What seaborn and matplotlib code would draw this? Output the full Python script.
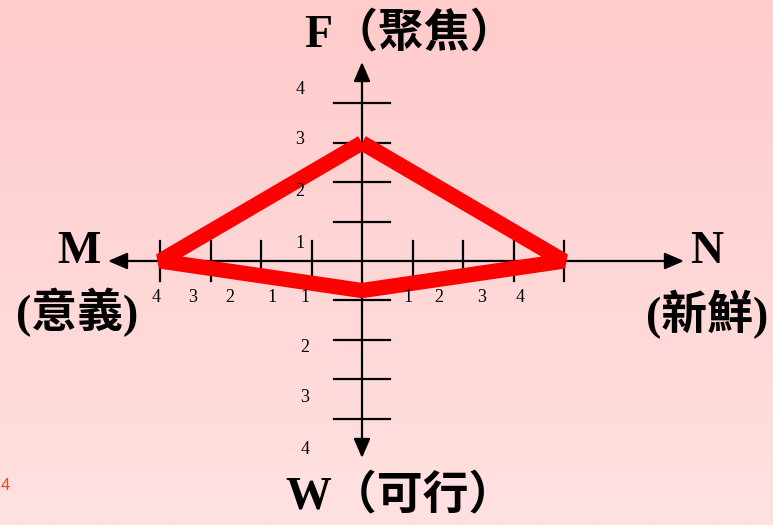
import numpy as np
import pandas as pd
import seaborn as sns
import matplotlib.pyplot as plt
from matplotlib.colors import LinearSegmentedColormap

# dados do grafico
eixos = ['F', 'N', 'W', 'M']
notas = [3, 4, 0.75, 4]
direcoes = [(0, 1), (1, 0), (0, -1), (-1, 0)]
ticks = [1, 2, 3, 4]

titulo_f = 'F（聚焦）'
titulo_w = 'W（可行）'
titulo_m = ['M', '(意義)']
titulo_n = ['N', '(新鮮)']

rotulos_esq = ['4', '3', '2', '1', '1']
rotulos_dir = ['1', '2', '3', '4']
rotulos_cima = ['4', '3', '2', '1']
rotulos_baixo = ['2', '3', '4']

# escala em pixels (slide original)
CX, CY, UX, UY = 362, 261, 50.5, 39.4
W_PX, H_PX = 773, 525


def dx(px):
    return (px - CX) / UX


def dy(py):
    return (CY - py) / UY


fig = plt.figure(figsize=(W_PX / 100, H_PX / 100), dpi=100)
ax = fig.add_axes([0, 0, 1, 1])
ax.set_xlim(dx(0), dx(W_PX))
ax.set_ylim(dy(H_PX), dy(0))
ax.axis('off')

# fundo rosa em gradiente
cmap = LinearSegmentedColormap.from_list('rosa', ['#ffcbcb', '#ffe1e1'])
grad = np.linspace(0, 1, 256).reshape(-1, 1)
ax.imshow(grad, cmap=cmap, aspect='auto', zorder=0,
          extent=[dx(0), dx(W_PX), dy(H_PX), dy(0)])

# eixos com setas
seta = dict(arrowstyle='-|>,head_length=0.65,head_width=0.28', color='black',
            lw=1.6, mutation_scale=18, shrinkA=0, shrinkB=0)
for tip in [(dx(108), 0), (dx(684), 0), (0, dy(62)), (0, dy(458))]:
    ax.annotate('', xy=tip, xytext=(0, 0), arrowprops=seta, zorder=2)

for t in ticks:
    for s in (-1, 1):
        ax.plot([s * t, s * t], [-0.51, 0.51], color='black', lw=1.6, zorder=2)
        ax.plot([-0.56, 0.56], [s * t, s * t], color='black', lw=1.6, zorder=2)

# poligono
xs = [d[0] * v for d, v in zip(direcoes, notas)]
ys = [d[1] * v for d, v in zip(direcoes, notas)]
df = pd.DataFrame({'x': xs + xs[:1], 'y': ys + ys[:1], 'eixo': eixos + eixos[:1]})
sns.lineplot(data=df, x='x', y='y', sort=False, estimator=None, ax=ax,
             color='#ff0000', lw=11, solid_joinstyle='bevel',
             solid_capstyle='butt', zorder=3)
ax.set_xlabel('')
ax.set_ylabel('')

# rotulos numericos (caixas de texto do slide)
serif = ['Liberation Serif', 'DejaVu Serif']
num = dict(fontsize=13, family=serif, ha='center', va='center', zorder=4)
for txt, px in zip(rotulos_esq, [156, 193, 230, 272, 305]):
    ax.text(dx(px), dy(297), txt, **num)
for txt, px in zip(rotulos_dir, [408, 439, 482, 520]):
    ax.text(dx(px), dy(297), txt, **num)
for txt, py in zip(rotulos_cima, [89, 140, 192, 243]):
    ax.text(dx(300), dy(py), txt, **num)
for txt, py in zip(rotulos_baixo, [348, 398, 450]):
    ax.text(dx(305), dy(py), txt, **num)

# titulos dos eixos
fam = ['Liberation Serif', 'Noto Sans CJK TC', 'DejaVu Sans']
grande = dict(fontsize=33, family=fam, weight='bold', ha='center', va='center', zorder=4)
ax.text(dx(410), dy(34), titulo_f, **grande)
ax.text(dx(400), dy(496), titulo_w, **grande)
ax.text(dx(79), dy(252), titulo_m[0], **grande)
ax.text(dx(77), dy(312), titulo_m[1], **grande)
ax.text(dx(707), dy(252), titulo_n[0], **grande)
ax.text(dx(707), dy(314), titulo_n[1], **grande)

# numero laranja no canto
ax.text(dx(1), dy(486), '4', fontsize=12, color='#ff4010', family=['Liberation Sans'],
        ha='left', va='center', zorder=4)

fig.savefig('out.png', dpi=100)
